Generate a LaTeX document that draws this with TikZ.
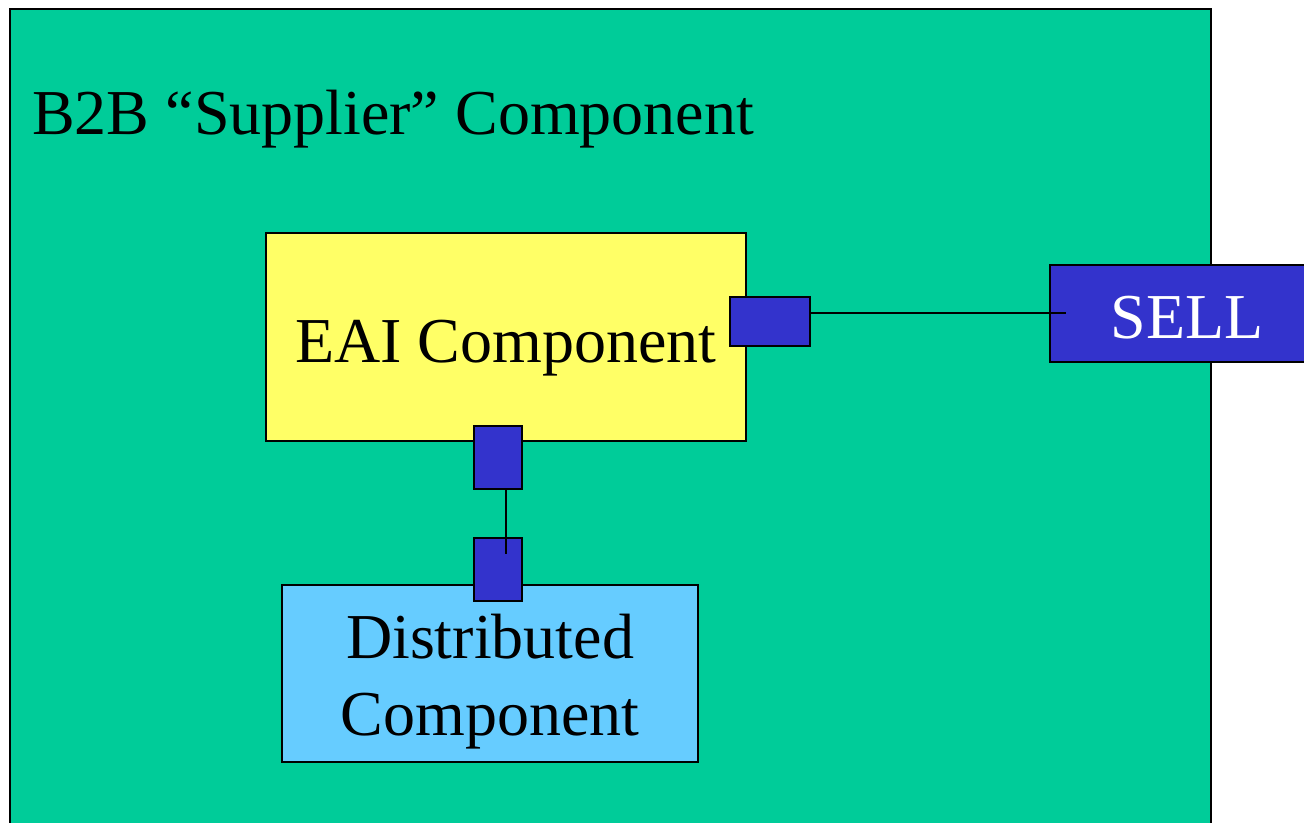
\documentclass[tikz,border=0pt]{standalone}
\usepackage{fontspec}
\setmainfont{Liberation Serif}
\usetikzlibrary{calc}
\definecolor{bggreen}{HTML}{00CC99}
\definecolor{eaiyellow}{HTML}{FFFF66}
\definecolor{distblue}{HTML}{66CCFF}
\definecolor{portblue}{HTML}{3333CC}
\tikzset{
  box/.style={draw=black, line width=1.5pt, rectangle, inner sep=0pt},
  port/.style={box, fill=portblue},
  lbl/.style={font=\fontsize{48}{57.75}\selectfont, inner sep=0pt},
  wire/.style={draw=black, line width=1.5pt}
}
\begin{document}
\begin{tikzpicture}[x=0.75pt,y=-0.75pt]
\useasboundingbox (0,0) rectangle (1304,822);
% outer component
\node[box, fill=bggreen, minimum width=900.75pt, minimum height=615.75pt] (outer) at (610.5,419.5) {};
\node[lbl, anchor=base west] (title) at (32,134) {B2B “Supplier” Component};
% EAI
\node[box, fill=eaiyellow, minimum width=360pt, minimum height=156pt] (eai) at (506,337) {};
\node[lbl, anchor=base] (eaitext) at (506,362) {EAI Component};
% distributed
\node[box, fill=distblue, minimum width=312pt, minimum height=132.75pt] (dist) at (490,673.5) {};
\node[lbl, align=center] (disttext) at (490,681.6) {Distributed\\Component};
% SELL
\node[box, fill=portblue, minimum width=205.5pt, minimum height=72.75pt] (sell) at (1187,313.5) {};
\node[lbl, text=white, anchor=base] (selltext) at (1187,338) {SELL};
% ports
\node[port, minimum width=36pt, minimum height=47.25pt] (portlow) at (498,569.5) {};
\node[port, minimum width=36pt, minimum height=47.25pt] (portdown) at (498,457.5) {};
\node[port, minimum width=60pt, minimum height=36.75pt] (portright) at (770,321.5) {};
% wires (free ends end inside the target boxes)
\coordinate (vend) at ($(portlow.center)+(8,-15.5)$);
\draw[wire] (portdown.south -| vend) -- (vend);
\coordinate (hend) at ($(sell.west)+(17,-0.5)$);
\draw[wire] (portright.east |- hend) -- (hend);
\end{tikzpicture}
\end{document}
